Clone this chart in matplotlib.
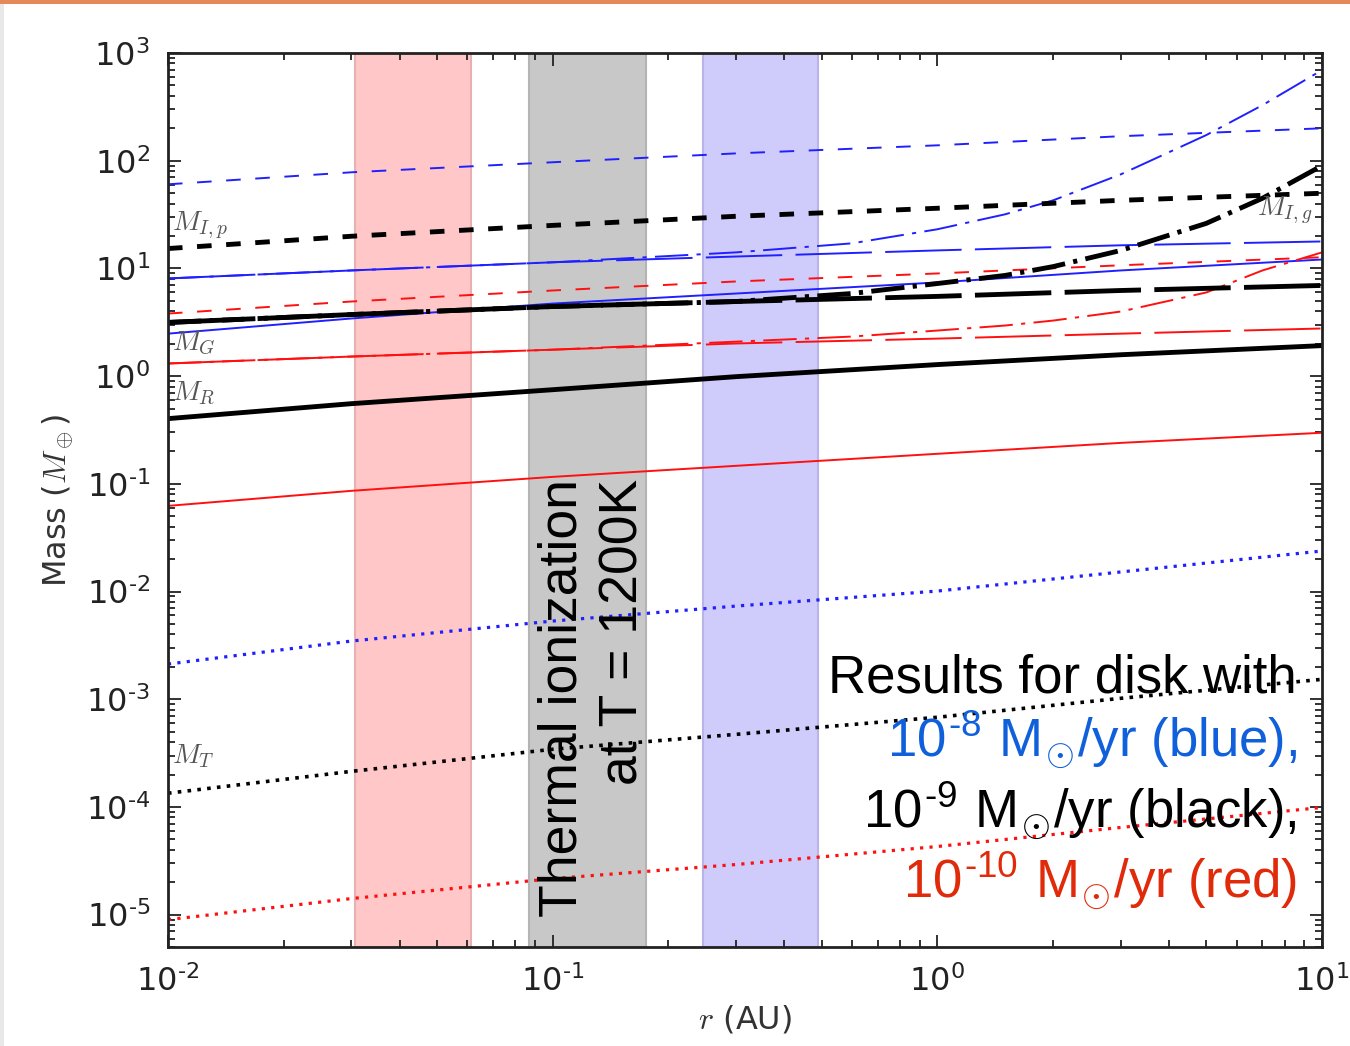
import matplotlib
matplotlib.use('Agg')
import numpy as np
import matplotlib.pyplot as plt
from matplotlib.patches import Rectangle
from matplotlib.ticker import LogLocator, FuncFormatter

plt.rcParams['mathtext.fontset'] = 'cm'

# radius grids (AU)
r = [0.01, 0.03, 0.1, 0.3, 1, 3, 10]
r_fine = [0.01, 0.03, 0.1, 0.3, 0.6, 1, 1.5, 2, 3, 5, 7, 10]

# 1e-8 Msun/yr (blue)
blue_Mip = [60.4, 78.1, 96.8, 117, 139, 169, 200]
blue_MG = [8.07, 9.58, 11.4, 12.9, 14.7, 16.4, 17.8]
blue_Mig = [8.07, 9.58, 11.4, 14.1, 17.1, 23.1, 31.8, 42.9, 74.8, 173, 328, 695]
blue_MR = [2.48, 3.43, 4.72, 5.85, 7.41, 9.58, 12.1]
blue_MT = [2.12e-3, 3.47e-3, 5.32e-3, 7.33e-3, 1.01e-2, 1.52e-2, 2.38e-2]

# 1e-9 Msun/yr (black)
black_Mip = [15.3, 19.9, 25.1, 30.5, 36.2, 42.9, 49.9]
black_MG = [3.15, 3.73, 4.43, 4.93, 5.50, 6.24, 6.95]
black_Mig = [3.15, 3.73, 4.43, 4.93, 5.85, 7.24, 8.61, 10.4, 14.7, 26.2, 44.8, 90]
black_MR = [0.403, 0.555, 0.748, 0.989, 1.28, 1.58, 1.92]
black_MT = [1.34e-4, 2.14e-4, 3.43e-4, 4.72e-4, 6.80e-4, 1.02e-3, 1.53e-3]

# 1e-10 Msun/yr (red)
red_Mip = [3.81, 4.93, 6.24, 7.57, 8.98, 10.7, 12.7]
red_MG = [1.31, 1.52, 1.76, 2.01, 2.23, 2.48, 2.77]
red_Mig = [1.31, 1.52, 1.76, 2.09, 2.33, 2.65, 2.95, 3.28, 3.98, 5.98, 9.58, 14.1]
red_MR = [0.0624, 0.0861, 0.116, 0.147, 0.190, 0.240, 0.298]
red_MT = [8.98e-6, 1.41e-5, 2.16e-5, 2.92e-5, 4.29e-5, 6.45e-5, 9.89e-5]

# shaded zones (AU)
band_lo = [0.0306, 0.0867, 0.246]
band_hi = [0.0614, 0.1748, 0.489]
band_face = ['#ffc7c7', '#c8c8c8', '#cfcbfa']
band_edge = ['#e8b0b0', '#b4b4b4', '#b8b4e8']

HY = '\u2010'  # short hyphen for exponents

fig, ax = plt.subplots(figsize=(13.5, 10.46), dpi=100)
fig.subplots_adjust(left=0.1244, right=0.9793, bottom=0.0946, top=0.9493)

# slide frame bits
fig.add_artist(Rectangle((0, 1 - 4 / 1046), 1, 4 / 1046, transform=fig.transFigure,
                         color='#e5895a', lw=0))
fig.add_artist(Rectangle((0, 0), 4 / 1350, 1 - 4 / 1046, transform=fig.transFigure,
                         color='#e8e8e8', lw=0))

for lo, hi, fc, ec in zip(band_lo, band_hi, band_face, band_edge):
    ax.axvspan(lo, hi, facecolor=fc, edgecolor=ec, lw=1.5, zorder=0)


def draw_set(Mip, MG, Mig, MR, MT, color, lw, dot_lw):
    ax.plot(r, Mip, color=color, lw=lw, dashes=(10.5 / lw, 10.5 / lw))
    ax.plot(r, MG, color=color, lw=lw, dashes=(55 / lw, 9.6 / lw))
    ax.plot(r_fine, Mig, color=color, lw=lw,
            dashes=(24 / lw, 6 / lw, 3 / lw, 6 / lw))
    ax.plot(r, MR, color=color, lw=lw, ls='-')
    ax.plot(r, MT, color=color, lw=dot_lw, dashes=(1, 4.5 / dot_lw))


draw_set(blue_Mip, blue_MG, blue_Mig, blue_MR, blue_MT, '#2020ff', 1.4, 2.3)
draw_set(red_Mip, red_MG, red_Mig, red_MR, red_MT, '#ff1010', 1.4, 2.3)
draw_set(black_Mip, black_MG, black_Mig, black_MR, black_MT, 'black', 3.5, 2.6)

ax.set_xscale('log')
ax.set_yscale('log')
ax.set_xlim(0.01, 10)
ax.set_ylim(5e-6, 1e3)
ax.yaxis.set_major_locator(LogLocator(base=10, numticks=20))
ax.yaxis.set_minor_locator(LogLocator(base=10, subs=range(2, 10), numticks=20))


def fmt(v, pos):
    e = int(round(np.log10(v)))
    return r'$\mathdefault{10^{%s}}$' % str(e).replace('-', HY)


ax.xaxis.set_major_formatter(FuncFormatter(fmt))
ax.yaxis.set_major_formatter(FuncFormatter(fmt))

ax.tick_params(which='both', direction='in', top=True, right=True,
               width=1.3, color='#222222', labelcolor='#222222')
ax.tick_params(which='major', length=9, labelsize=23, pad=13)
ax.tick_params(which='minor', length=5)
for s in ax.spines.values():
    s.set_linewidth(2)
    s.set_color('#222222')

ax.set_xlabel('$r$ (AU)', fontsize=23, color='#333333', labelpad=4)
ax.set_ylabel(r'Mass ($M_\oplus$)', fontsize=23, color='#333333', labelpad=8)

# curve labels
lab = dict(transform=ax.transAxes, fontsize=20, color='#555555', ha='left', va='baseline')
ax.text(0.0035, 0.802, '$M_{I,p}$', **lab)
ax.text(0.0035, 0.668, '$M_G$', **lab)
ax.text(0.0035, 0.612, '$M_R$', **lab)
ax.text(0.0035, 0.206, '$M_T$', **lab)
ax.text(0.944, 0.819, '$M_{I,g}$', **lab)

# thermal ionization zone
ax.text(0.1274, 0.11, 'Thermal ionization\nat T = 1200K', rotation=90,
        ha='center', va='top', multialignment='right', fontsize=38.5,
        linespacing=1.3, family='Liberation Sans', color='black')

note = dict(transform=ax.transAxes, fontsize=38, family='Liberation Sans',
            ha='right', va='baseline')
ax.text(0.9783, 0.285, 'Results for disk with', color='black', **note)
ax.text(0.9783, 0.2125, r'10$^{\mathregular{%s8}}$ M$_{\odot}$/yr (blue),' % HY,
        color='#1060dc', **note)
ax.text(0.9783, 0.133, r'10$^{\mathregular{%s9}}$ M$_{\odot}$/yr (black),' % HY,
        color='black', **note)
ax.text(0.9783, 0.0548, r'10$^{\mathregular{%s10}}$ M$_{\odot}$/yr (red)' % HY,
        color='#e02a0a', **note)

fig.savefig('out.png', dpi=100)
